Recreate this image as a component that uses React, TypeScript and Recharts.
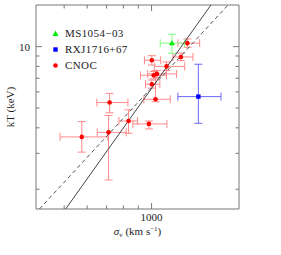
import React from 'react';
import { ScatterChart, Scatter, XAxis, YAxis, ErrorBar } from 'recharts';

const FONT = '"Liberation Serif", "DejaVu Serif", serif';
const AXIS = '#777';

// CNOC clusters: velocity dispersion (km/s) and X-ray temperature (keV)
const cnocSigma = [1328, 1262, 1002, 1126, 1017, 1043, 1002, 1032, 717, 833, 979, 711, 575];
const cnocSigmaLo = [1232, 1184, 945, 1022, 916, 969, 953, 941, 648, 772, 862, 650, 484];
const cnocSigmaHi = [1464, 1388, 1075, 1300, 1126, 1219, 1068, 1160, 829, 895, 1129, 818, 707];
const cnocKT = [10.4, 8.9, 8.58, 8.0, 7.24, 7.35, 6.54, 5.52, 5.32, 4.32, 4.18, 3.8, 3.61];
const cnocKTLo = [9.93, 8.54, 8.13, 7.63, 6.95, 7.05, 6.26, 5.37, 4.74, 3.76, 3.95, 2.22, 3.04];
const cnocKTHi = [10.9, 9.3, 9.03, 8.41, 7.55, 7.65, 6.86, 7.63, 5.9, 4.9, 4.32, 4.6, 4.29];

const msSigma = [1175];
const msSigmaLo = [1071];
const msSigmaHi = [1299];
const msKT = [10.4];
const msKTLo = [9.28];
const msKTHi = [11.5];

const rxSigma = [1449];
const rxSigmaLo = [1232];
const rxSigmaHi = [1734];
const rxKT = [5.69];
const rxKTLo = [4.21];
const rxKTHi = [8.2];

// relations drawn across the frame
const solidSigma = [506, 1601];
const solidKT = [1.6, 16];
const dashSigma = [411, 1833];
const dashKT = [1.6, 16];

const xTicks = [500, 600, 700, 800, 900, 1000];
const yTicks = [2, 3, 4, 5, 6, 7, 8, 9, 10];
const xMajor = [1000];
const yMajor = [10];

const toPoints = (
  sx: number[], sLo: number[], sHi: number[],
  ky: number[], kLo: number[], kHi: number[],
) =>
  sx.map((x, i) => ({
    x,
    y: ky[i],
    ex: [x - sLo[i], sHi[i] - x],
    ey: [ky[i] - kLo[i], kHi[i] - ky[i]],
  }));

const cnoc = toPoints(cnocSigma, cnocSigmaLo, cnocSigmaHi, cnocKT, cnocKTLo, cnocKTHi);
const ms = toPoints(msSigma, msSigmaLo, msSigmaHi, msKT, msKTLo, msKTHi);
const rx = toPoints(rxSigma, rxSigmaLo, rxSigmaHi, rxKT, rxKTLo, rxKTHi);
const solid = solidSigma.map((x, i) => ({ x, y: solidKT[i] }));
const dashed = dashSigma.map((x, i) => ({ x, y: dashKT[i] }));

const renderTick = (p: any, side: string) => {
  const { x, y, payload } = p;
  const v = payload.value;
  const major = (side === 'bottom' || side === 'top' ? xMajor : yMajor).includes(v);
  const len = major ? 6 : 3.5;
  let line;
  let label = null;
  if (side === 'bottom') {
    line = <line x1={x} y1={y} x2={x} y2={y - len} stroke={AXIS} />;
    if (major)
      label = (
        <text x={x} y={y + 12} textAnchor="middle" fontSize={11} fontFamily={FONT} fill="#222">
          {v}
        </text>
      );
  } else if (side === 'top') {
    line = <line x1={x} y1={y} x2={x} y2={y + len} stroke={AXIS} />;
  } else if (side === 'left') {
    line = <line x1={x} y1={y} x2={x + len} y2={y} stroke={AXIS} />;
    if (major)
      label = (
        <text x={x - 6} y={y + 4} textAnchor="end" fontSize={11} fontFamily={FONT} fill="#222">
          {v}
        </text>
      );
  } else {
    line = <line x1={x} y1={y} x2={x - len} y2={y} stroke={AXIS} />;
  }
  return (
    <g>
      {line}
      {label}
    </g>
  );
};

const dot = (fill: string) => (p: any) => <circle cx={p.cx} cy={p.cy} r={2.3} fill={fill} />;
const tri = (fill: string) => (p: any) => (
  <path d={`M${p.cx},${p.cy - 3}L${p.cx + 3},${p.cy + 2.2}L${p.cx - 3},${p.cy + 2.2}Z`} fill={fill} />
);
const sq = (fill: string) => (p: any) => <rect x={p.cx - 2.2} y={p.cy - 2.2} width={4.4} height={4.4} fill={fill} />;
const none = () => <g />;

const legendItems = [
  { name: 'MS1054\u221203', color: '#00ee00', kind: 'tri' },
  { name: 'RXJ1716+67', color: '#0000ff', kind: 'sq' },
  { name: 'CNOC', color: '#ff0000', kind: 'dot' },
];

const Legend = () => (
  <div style={{ position: 'absolute', left: 51, top: 25, fontFamily: FONT, fontSize: 11, color: '#222' }}>
    {legendItems.map((it) => (
      <div key={it.name} style={{ height: 16, lineHeight: '16px', display: 'flex', alignItems: 'center', letterSpacing: 0.4 }}>
        <svg width={9} height={9} style={{ marginRight: 5 }}>
          {it.kind === 'tri' && <path d="M4.5,1.5L7.5,7L1.5,7Z" fill={it.color} />}
          {it.kind === 'sq' && <rect x={2.3} y={2.3} width={4.4} height={4.4} fill={it.color} />}
          {it.kind === 'dot' && <circle cx={4.5} cy={4.5} r={2.3} fill={it.color} />}
        </svg>
        <span>{it.name}</span>
      </div>
    ))}
  </div>
);

const App: React.FC = () => (
  <div style={{ position: 'absolute', left: 0, top: 0, width: 281, height: 255, background: '#fff' }}>
    <ScatterChart width={281} height={255} margin={{ top: 0, right: 32, bottom: 16, left: 6 }}>
      <XAxis
        xAxisId="b"
        dataKey="x"
        type="number"
        scale="log"
        domain={[400, 2000]}
        allowDataOverflow
        ticks={xTicks}
        interval={0}
        orientation="bottom"
        height={30}
        tickSize={0}
        tickMargin={0}
        tickLine={false}
        axisLine={{ stroke: AXIS }}
        tick={(p: any) => renderTick(p, 'bottom')}
        label={{
          content: (lp: any) => {
            const vb = lp.viewBox;
            return (
              <text x={vb.x + vb.width / 2} y={235} textAnchor="middle" fontSize={11} fontFamily={FONT} fill="#222">
                <tspan fontStyle="italic">σ</tspan>
                <tspan fontSize={7} dy={2}>v</tspan>
                <tspan dy={-2}> (km s</tspan>
                <tspan fontSize={7} dy={-4}>−1</tspan>
                <tspan dy={4}>)</tspan>
              </text>
            );
          },
        }}
      />
      <XAxis
        xAxisId="t"
        dataKey="x"
        type="number"
        scale="log"
        domain={[400, 2000]}
        allowDataOverflow
        ticks={xTicks}
        interval={0}
        orientation="top"
        height={5}
        tickSize={0}
        tickMargin={0}
        tickLine={false}
        axisLine={{ stroke: AXIS }}
        tick={(p: any) => renderTick(p, 'top')}
      />
      <YAxis
        yAxisId="l"
        dataKey="y"
        type="number"
        scale="log"
        domain={[1.6, 16]}
        allowDataOverflow
        ticks={yTicks}
        interval={0}
        orientation="left"
        width={30}
        tickSize={0}
        tickMargin={0}
        tickLine={false}
        axisLine={{ stroke: AXIS }}
        tick={(p: any) => renderTick(p, 'left')}
        label={{
          content: (lp: any) => {
            const vb = lp.viewBox;
            const cy = vb.y + vb.height / 2;
            return (
              <text
                x={10}
                y={cy}
                transform={`rotate(-90 10 ${cy})`}
                textAnchor="middle"
                dominantBaseline="central"
                fontSize={11}
                fontFamily={FONT}
                fill="#222"
              >
                kT (keV)
              </text>
            );
          },
        }}
      />
      <YAxis
        yAxisId="r"
        dataKey="y"
        type="number"
        scale="log"
        domain={[1.6, 16]}
        allowDataOverflow
        ticks={yTicks}
        interval={0}
        orientation="right"
        width={10}
        tickSize={0}
        tickMargin={0}
        tickLine={false}
        axisLine={{ stroke: AXIS }}
        tick={(p: any) => renderTick(p, 'right')}
      />
      <Scatter xAxisId="b" yAxisId="l" data={dashed} line={{ stroke: '#555', strokeWidth: 1, strokeDasharray: '4 3' }} shape={none} isAnimationActive={false} />
      <Scatter xAxisId="b" yAxisId="l" data={solid} line={{ stroke: '#444', strokeWidth: 1 }} shape={none} isAnimationActive={false} />
      <Scatter xAxisId="b" yAxisId="l" data={cnoc} fill="#ff0000" shape={dot('#ff0000')} isAnimationActive={false}>
        <ErrorBar dataKey="ex" direction="x" width={4} stroke="#ff8a8a" strokeWidth={1} />
        <ErrorBar dataKey="ey" direction="y" width={4} stroke="#ff8a8a" strokeWidth={1} />
      </Scatter>
      <Scatter xAxisId="b" yAxisId="l" data={ms} fill="#00ee00" shape={tri('#00ee00')} isAnimationActive={false}>
        <ErrorBar dataKey="ex" direction="x" width={4} stroke="#80ff80" strokeWidth={1} />
        <ErrorBar dataKey="ey" direction="y" width={4} stroke="#80ff80" strokeWidth={1} />
      </Scatter>
      <Scatter xAxisId="b" yAxisId="l" data={rx} fill="#0000ff" shape={sq('#0000ff')} isAnimationActive={false}>
        <ErrorBar dataKey="ex" direction="x" width={4} stroke="#6a6aff" strokeWidth={1} />
        <ErrorBar dataKey="ey" direction="y" width={4} stroke="#6a6aff" strokeWidth={1} />
      </Scatter>
    </ScatterChart>
    <Legend />
  </div>
);

export default App;
